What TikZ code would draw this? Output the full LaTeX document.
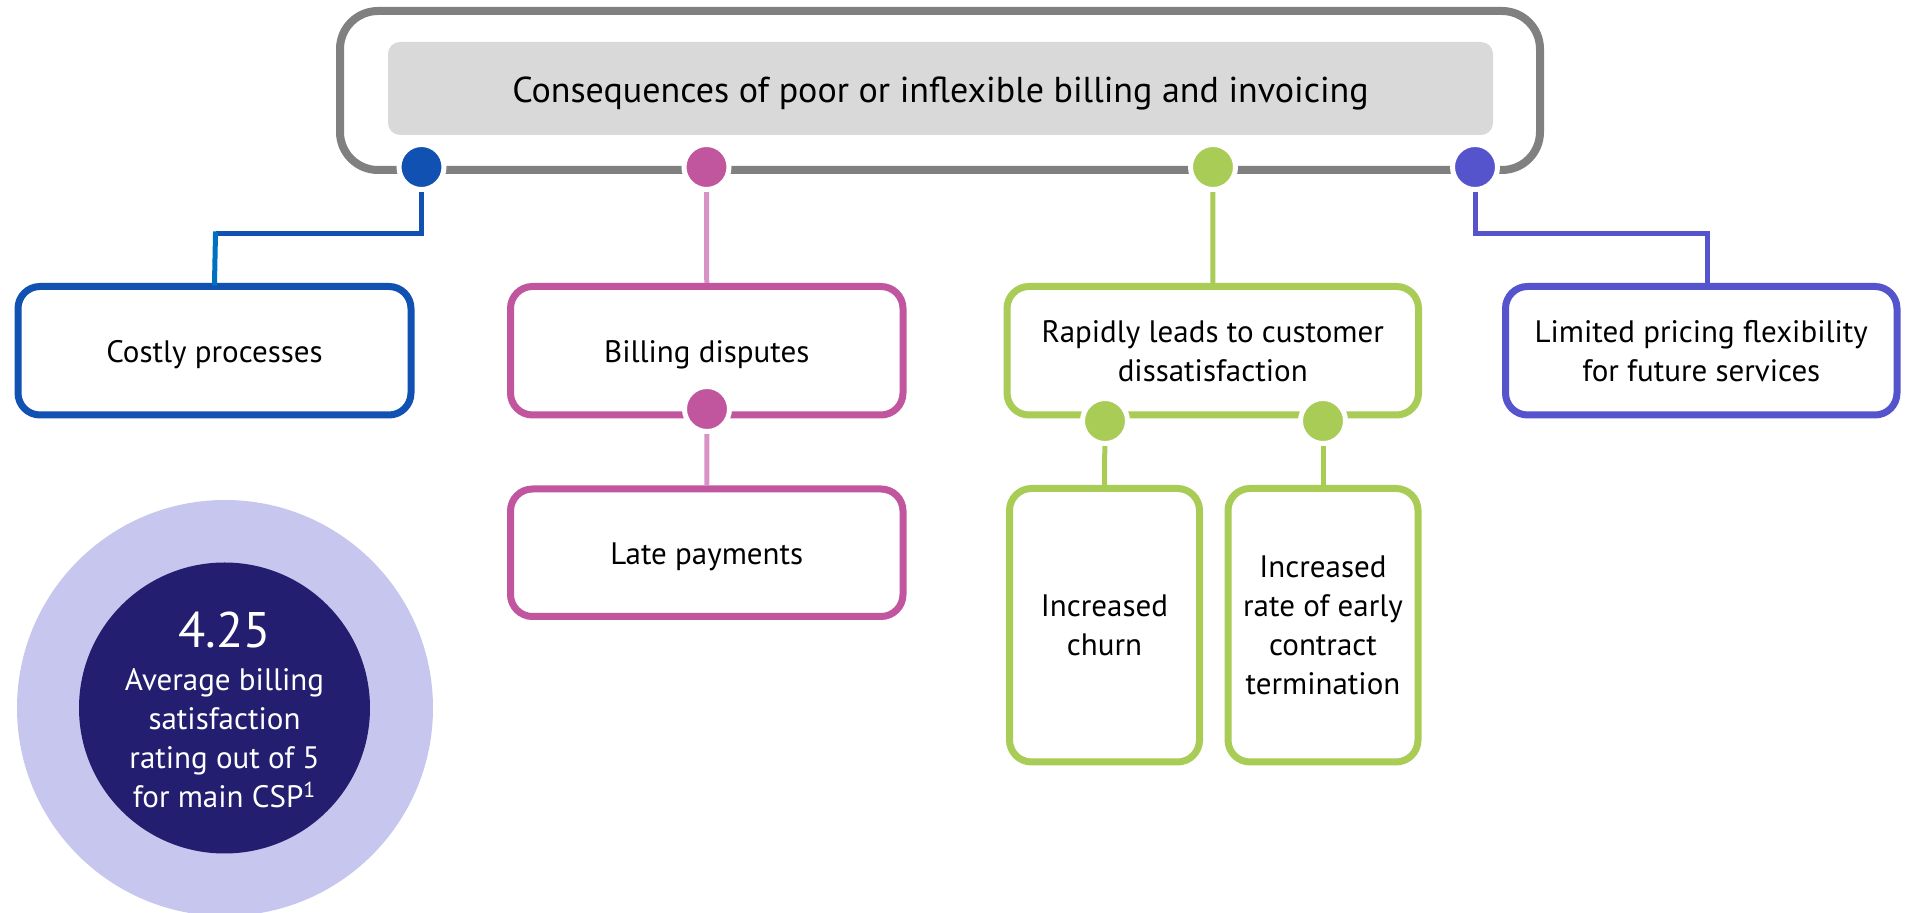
\documentclass[tikz,border=0pt]{standalone}
\usepackage{fontspec}
\setmainfont{PT Sans}
\definecolor{cgray}{HTML}{808080}
\definecolor{cgraybox}{HTML}{D9D9D9}
\definecolor{cblue}{HTML}{1151B2}
\definecolor{clblue}{HTML}{0070C0}
\definecolor{cpink}{HTML}{C1569F}
\definecolor{clpink}{HTML}{D992C5}
\definecolor{cgreen}{HTML}{A8CC56}
\definecolor{cpurple}{HTML}{5654CD}
\definecolor{clcirc}{HTML}{C6C6EE}
\definecolor{cdcirc}{HTML}{231E70}
\newcommand{\bfnt}{\fontsize{15.5pt}{19.5pt}\selectfont}
\newcommand{\tfnt}{\fontsize{18pt}{22pt}\selectfont}
\newcommand{\nfnt}{\fontsize{25pt}{28pt}\selectfont}
\tikzset{
  box/.style={draw=#1, line width=3.5pt, rounded corners=11pt, fill=white, align=center, inner sep=0pt, font=\bfnt, text=black},
  oneline/.style={text height=12pt, text depth=0pt},
  conn/.style={line width=2.5pt},
  dotn/.style={circle, fill=#1, draw=white, line width=2.5pt, minimum size=22.5pt, inner sep=0pt}
}
\begin{document}
\begin{tikzpicture}[x=0.5pt,y=-0.5pt]
\useasboundingbox (0,0) rectangle (1908,913);
% header
\node[draw=cgray, line width=4pt, rounded corners=19pt, minimum width=600pt, minimum height=79.5pt, inner sep=0pt] (frame) at (940,90.5) {};
\node[fill=cgraybox, rounded corners=6pt, minimum width=552.5pt, minimum height=46.5pt, inner sep=0pt, font=\tfnt, text height=14.5pt, text depth=0pt] (title) at (940.5,88.5) {Consequences of poor or inflexible billing and invoicing};
% boxes
\node[box=cblue, oneline, minimum width=196.5pt, minimum height=64.25pt] (costly) at (214.5,350.75) {Costly processes};
\node[box=cpink, oneline, minimum width=196.25pt, minimum height=64.25pt] (billing) at (706.75,350.75) {Billing disputes};
\node[box=cpink, oneline, minimum width=196.25pt, minimum height=63.75pt] (late) at (706.75,552.75) {Late payments};
\node[box=cgreen, minimum width=205.75pt, minimum height=64.25pt] (rapid) at (1212.75,350.75) {Rapidly leads to customer\\dissatisfaction};
\node[box=cgreen, minimum width=95pt, minimum height=136.75pt] (churn) at (1104.5,625.25) {Increased\\churn};
\node[box=cgreen, minimum width=95pt, minimum height=136.75pt] (rate) at (1323,625.25) {Increased\\rate of early\\contract\\termination};
\node[box=cpurple, minimum width=195.75pt, minimum height=64.25pt] (limited) at (1701.25,350.75) {Limited pricing flexibility\\for future services};
% dot positions
\coordinate (bd) at (421.5,167);
\coordinate (pd) at (706.5,167);
\coordinate (gd) at (1213,167);
\coordinate (ud) at (1475,167);
\coordinate (pd2) at (707,409);
\coordinate (gd1) at (1105,421);
\coordinate (gd2) at (1323,421);
\coordinate (bj) at (215.5,234);
\coordinate (uj) at (1707.5,234);
% connectors
\draw[conn, cblue] (bd) |- (bj);
\draw[conn, clblue, line cap=rect] (bj) -- (costly.north);
\draw[conn, clpink] (pd) -- (billing.north);
\draw[conn, clpink] (pd2) -- (late.north);
\draw[conn, cgreen] (gd) -- (rapid.north);
\draw[conn, cgreen] (gd1) -- (churn.north);
\draw[conn, cgreen] (gd2) -- (rate.north);
\draw[conn, cpurple] (ud) |- (uj) -- (uj |- limited.north);
% dots
\node[dotn=cblue] (bdot) at (bd) {};
\node[dotn=cpink] (pdot) at (pd) {};
\node[dotn=cgreen] (gdot) at (gd) {};
\node[dotn=cpurple] (udot) at (ud) {};
\node[dotn=cpink] (pdot2) at (pd2) {};
\node[dotn=cgreen] (gdot1) at (gd1) {};
\node[dotn=cgreen] (gdot2) at (gd2) {};
% rating circle
\node[circle, fill=clcirc, minimum size=208pt, inner sep=0pt] (outer) at (225,708) {};
\node[circle, fill=cdcirc, minimum size=145.5pt, inner sep=0pt] (inner) at (224.5,708) {};
\node[text=white, font=\nfnt, anchor=base, inner sep=0pt] (num) at (224.5,648) {4.25};
\node[text=white, font=\bfnt, align=center, inner sep=0pt] (desc) at (224.5,738.5) {Average billing\\satisfaction\\rating out of 5\\for main CSP\textsuperscript{1}};
\end{tikzpicture}
\end{document}
